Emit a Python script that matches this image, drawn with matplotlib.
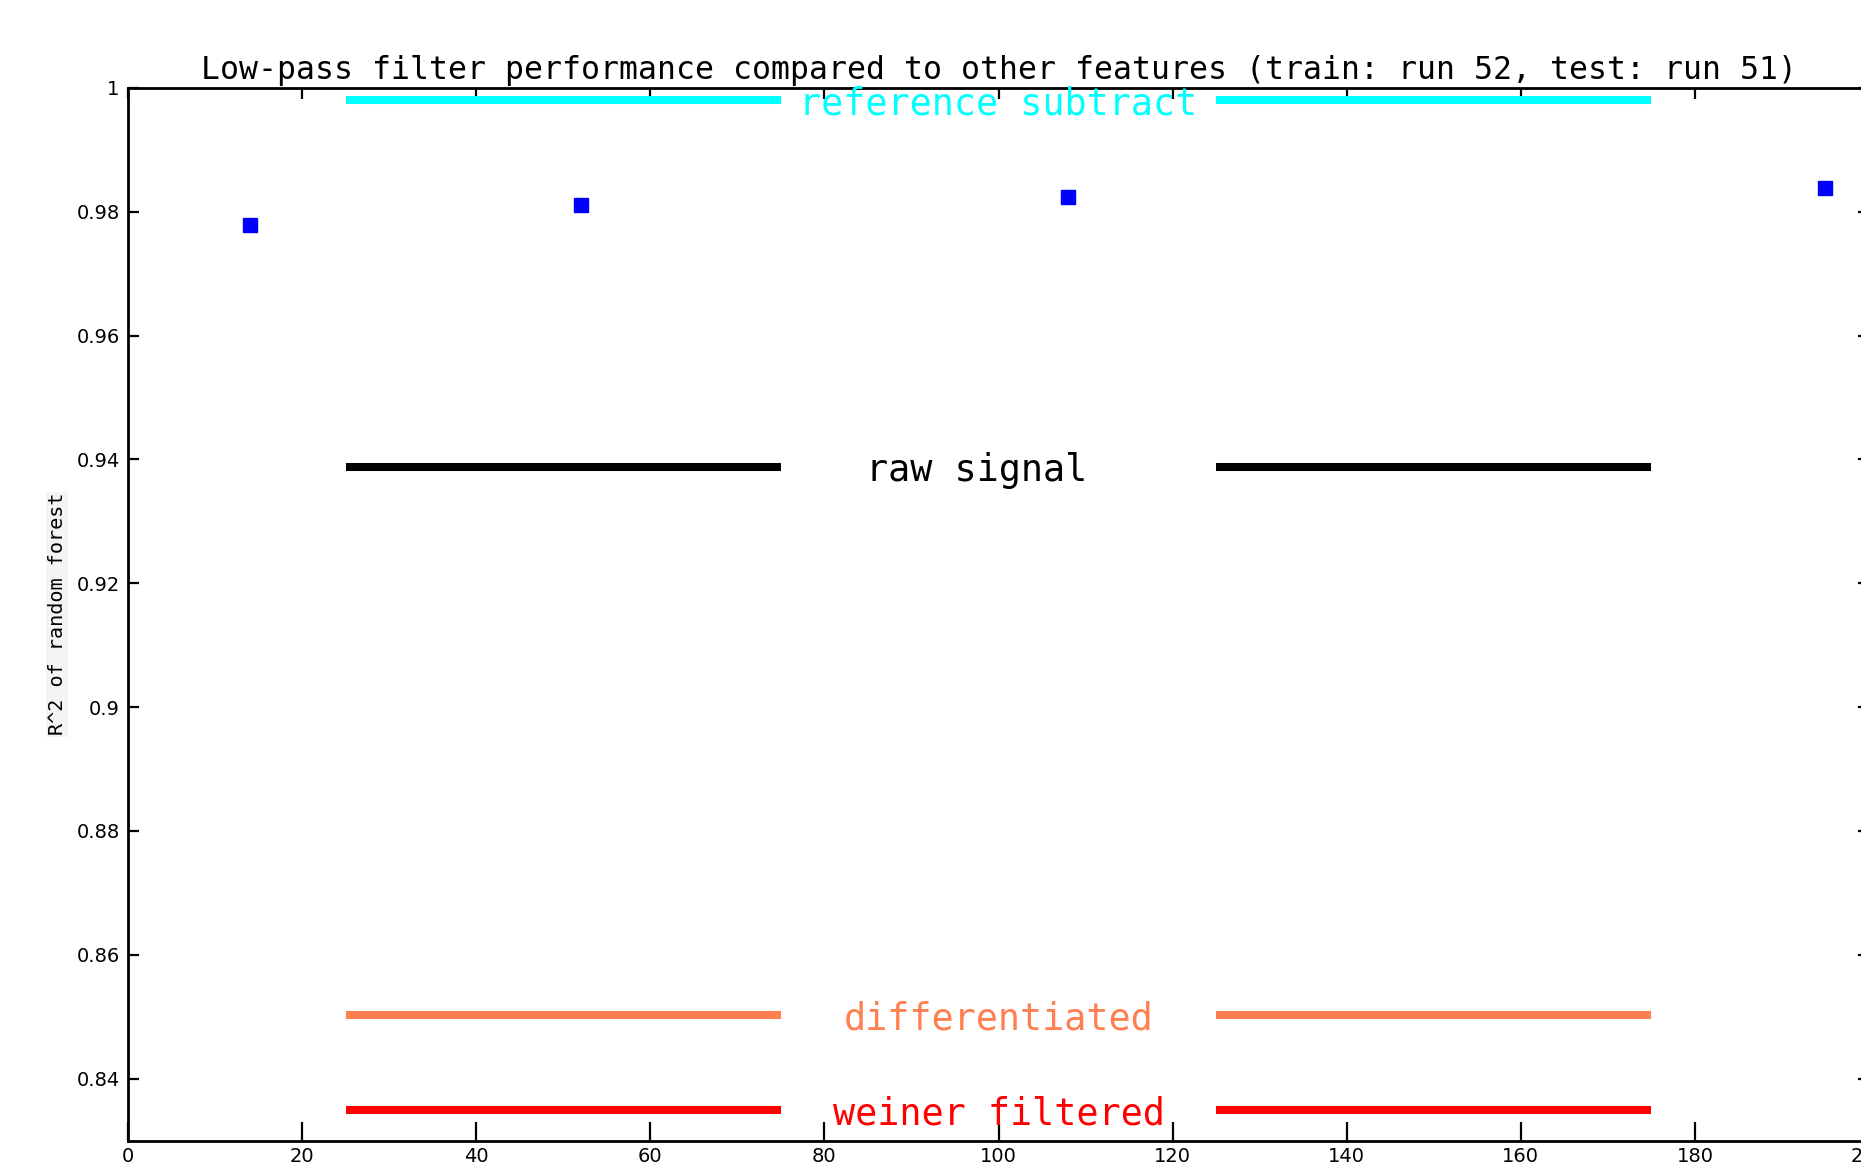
import numpy as np
import matplotlib
matplotlib.use("Agg")
import matplotlib.pyplot as plt
from matplotlib.ticker import FuncFormatter

# low-pass cutoff (Hz) and the R^2 it gets
cutoffs = [14, 52, 108, 195]
r2_lowpass = [0.9779, 0.9810, 0.9824, 0.9839]

# other features, drawn as flat reference lines
features = ["reference subtract", "raw signal", "differentiated", "weiner filtered"]
feature_r2 = [0.9981, 0.9388, 0.8502, 0.8349]
feature_colors = ["#00ffff", "#000000", "#ff7f50", "#ff0000"]

xticks = np.arange(0, 201, 20)
yticks = np.arange(0.84, 1.0001, 0.02)

mono = "DejaVu Sans Mono"

fig = plt.figure(figsize=(18.61, 11.71), dpi=100)
ax = fig.add_axes([0.0688, 0.026, 0.9355, 0.899])

for name, val, col in zip(features, feature_r2, feature_colors):
    ax.plot([25, 75], [val, val], color=col, lw=5.8, solid_capstyle="butt")
    ax.plot([125, 175], [val, val], color=col, lw=5.8, solid_capstyle="butt")
    xt = 97.5 if name == "raw signal" else 100
    ax.text(xt, val, name, color=col, ha="center", va="center_baseline",
            fontsize=26.5, family=mono)

ax.plot(cutoffs, r2_lowpass, ls="none", marker="s", ms=10,
        color="#0000ff", mec="#0000ff")

ax.set_xlim(0, 200)
ax.set_ylim(0.83, 1.0)
ax.set_xticks(xticks)
ax.set_yticks(yticks)
ax.yaxis.set_major_formatter(FuncFormatter(lambda v, p: f"{v:g}"))

for s in ax.spines.values():
    s.set_linewidth(2)
ax.tick_params(axis="x", direction="in", length=14, width=1.6,
               labelsize=14, pad=5)
ax.tick_params(axis="y", direction="in", length=8, width=1.6,
               labelsize=14, pad=6)

top = ax.secondary_xaxis("top")
top.set_xticks(xticks)
top.tick_params(direction="in", length=8, width=1.6, labeltop=False)
right = ax.secondary_yaxis("right")
right.set_yticks(yticks)
right.tick_params(direction="in", length=8, width=1.6, labelright=False)

ax.set_title("Low-pass filter performance compared to other features "
             "(train: run 52, test: run 51)", fontsize=22.7, family=mono, pad=6)
ax.set_xlabel("cut-off frequency (Hz)", fontsize=14, family=mono,
              color="#777777", labelpad=6)
ax.set_ylabel("R^2 of random forest", fontsize=14.5, family=mono,
              bbox=dict(facecolor="#f4f4f4", edgecolor="none", pad=1))
ax.yaxis.set_label_coords(-0.0353, 0.5)

fig.savefig("out.png", dpi=100)
